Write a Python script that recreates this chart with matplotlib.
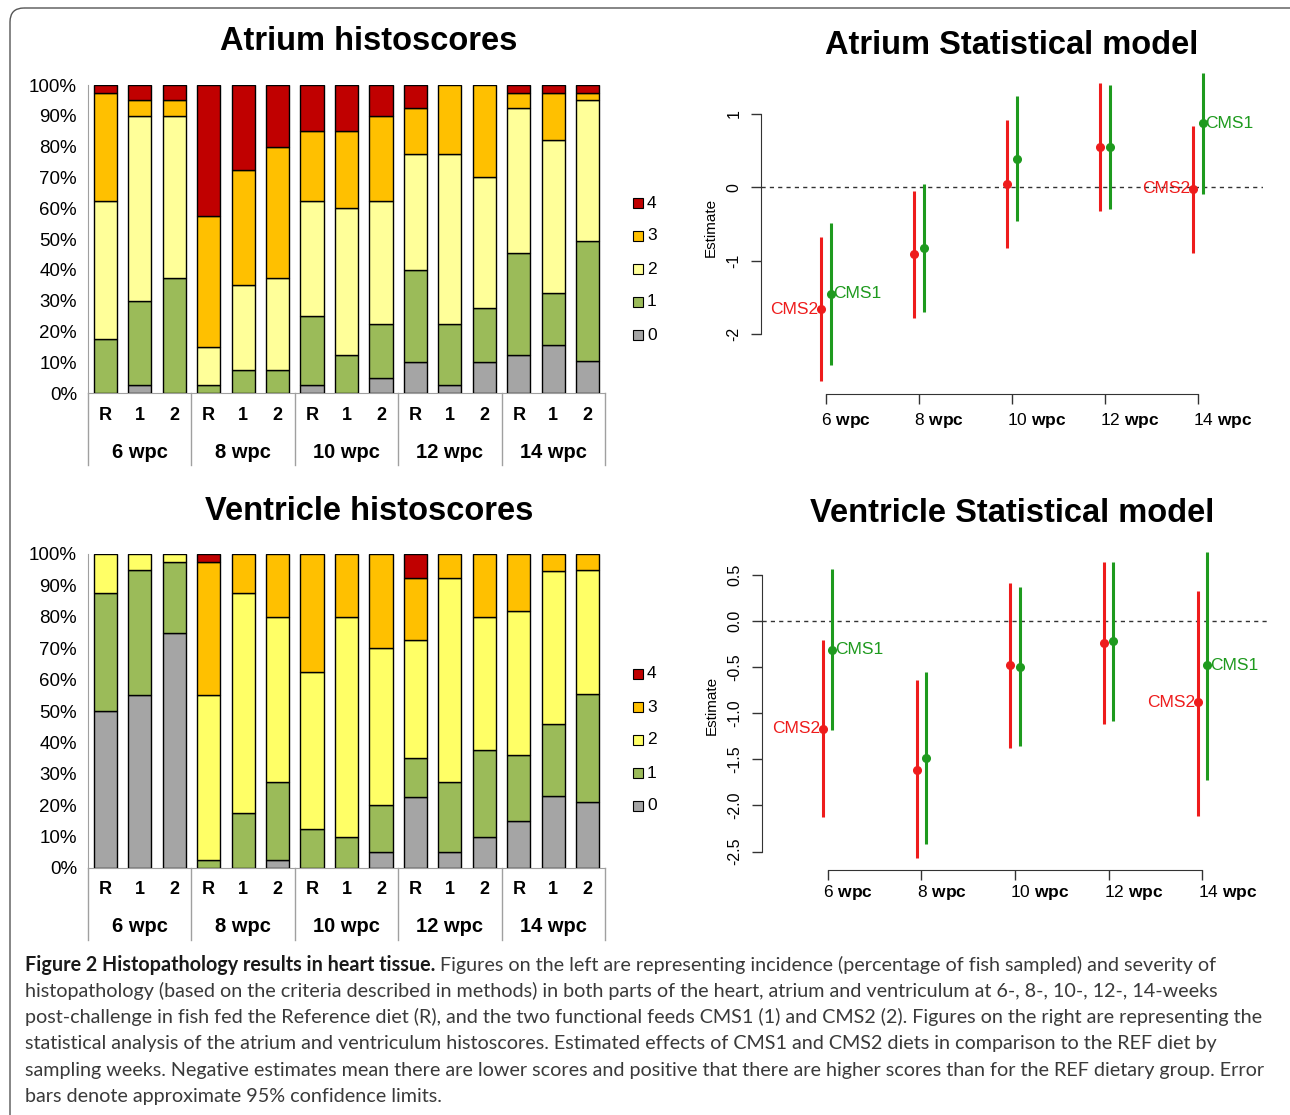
import numpy as np
import matplotlib
matplotlib.use("Agg")
import matplotlib.pyplot as plt
from matplotlib import transforms
from matplotlib.patches import FancyBboxPatch, Rectangle

plt.rcParams["font.family"] = ["Liberation Sans", "DejaVu Sans"]
plt.rcParams["axes.unicode_minus"] = False
plt.rcParams["mathtext.fontset"] = "custom"
plt.rcParams["mathtext.rm"] = "Liberation Sans"
plt.rcParams["mathtext.bf"] = "Liberation Sans:bold"

# ---- histoscore data (% of fish per score, bars: 6,8,10,12,14 wpc x R,1,2) ----
diets = ["R", "1", "2"]
groups = ["6 wpc", "8 wpc", "10 wpc", "12 wpc", "14 wpc"]
score_labels = ["0", "1", "2", "3", "4"]

atrium_s0 = [0, 2.5, 0, 0, 0, 0, 2.5, 0, 5, 10, 2.5, 10, 12.5, 15.5, 10.5]
atrium_s1 = [17.5, 27.5, 37.5, 2.5, 7.5, 7.5, 22.5, 12.5, 17.5, 30, 20, 17.5, 33, 17, 39]
atrium_s2 = [45, 60, 52.5, 12.5, 27.5, 30, 37.5, 47.5, 40, 37.5, 55, 42.5, 47, 49.5, 45.5]
atrium_s3 = [35, 5, 5, 42.5, 37.5, 42.5, 22.5, 25, 27.5, 15, 22.5, 30, 5, 15.5, 2.5]
atrium_s4 = [2.5, 5, 5, 42.5, 27.5, 20, 15, 15, 10, 7.5, 0, 0, 2.5, 2.5, 2.5]

ventricle_s0 = [50, 55, 75, 0, 0, 2.5, 0, 0, 5, 22.5, 5, 10, 15, 23, 21]
ventricle_s1 = [37.5, 40, 22.5, 2.5, 17.5, 25, 12.5, 10, 15, 12.5, 22.5, 27.5, 21, 23, 34.5]
ventricle_s2 = [12.5, 5, 2.5, 52.5, 70, 52.5, 50, 70, 50, 37.5, 65, 42.5, 46, 48.5, 39.5]
ventricle_s3 = [0, 0, 0, 42.5, 12.5, 20, 37.5, 20, 30, 20, 7.5, 20, 18, 5.5, 5]
ventricle_s4 = [0, 0, 0, 2.5, 0, 0, 0, 0, 0, 7.5, 0, 0, 0, 0, 0]

# ---- statistical model estimates with 95% limits ----
weeks = [6, 8, 10, 12, 14]

atr_cms2_est = [-1.66, -0.91, 0.045, 0.55, -0.02]
atr_cms2_lo = [-2.64, -1.78, -0.82, -0.32, -0.89]
atr_cms2_hi = [-0.68, -0.05, 0.91, 1.42, 0.83]
atr_cms1_est = [-1.45, -0.82, 0.39, 0.545, 0.87]
atr_cms1_lo = [-2.41, -1.70, -0.46, -0.30, -0.085]
atr_cms1_hi = [-0.48, 0.05, 1.24, 1.39, 1.56]

ven_cms2_est = [-1.17, -1.61, -0.48, -0.24, -0.88]
ven_cms2_lo = [-2.13, -2.57, -1.38, -1.12, -2.11]
ven_cms2_hi = [-0.21, -0.64, 0.41, 0.64, 0.33]
ven_cms1_est = [-0.31, -1.49, -0.50, -0.22, -0.48]
ven_cms1_lo = [-1.18, -2.42, -1.36, -1.08, -1.72]
ven_cms1_hi = [0.56, -0.55, 0.37, 0.64, 0.75]

caption_bold = "Figure 2 Histopathology results in heart tissue."
caption_lines = [
    " Figures on the left are representing incidence (percentage of fish sampled) and severity of",
    "histopathology (based on the criteria described in methods) in both parts of the heart, atrium and ventriculum at 6-, 8-, 10-, 12-, 14-weeks",
    "post-challenge in fish fed the Reference diet (R), and the two functional feeds CMS1 (1) and CMS2 (2). Figures on the right are representing the",
    "statistical analysis of the atrium and ventriculum histoscores. Estimated effects of CMS1 and CMS2 diets in comparison to the REF diet by",
    "sampling weeks. Negative estimates mean there are lower scores and positive that there are higher scores than for the REF dietary group. Error",
    "bars denote approximate 95% confidence limits.",
]

W, H = 1290, 1115
fig = plt.figure(figsize=(W / 100, H / 100), dpi=100)
px = transforms.Affine2D().scale(1 / W, -1 / H).translate(0, 1) + fig.transFigure

RED = "#EE1C1C"
GREEN = "#1E9A1E"
GRAY_AX = "#A0A0A0"


def axes_px(left, top, right, bottom):
    return fig.add_axes([left / W, 1 - bottom / H, (right - left) / W, (bottom - top) / H])


def bar_panel(top, bottom, scores, colors, title, title_y, label_y, group_y, sep_bottom, legend_y):
    ax = axes_px(88, top, 605, bottom)
    x = np.arange(15)
    base = np.zeros(15)
    for vals, col in zip(scores, colors):
        vals = np.asarray(vals, dtype=float)
        keep = vals > 0
        ax.bar(x[keep], vals[keep], bottom=base[keep], width=0.67, color=col,
               edgecolor="black", linewidth=1.0, zorder=3)
        base += vals
    ax.set_xlim(-0.5, 14.5)
    ax.set_ylim(0, 100)
    ax.set_yticks(range(0, 101, 10))
    ax.set_yticklabels([f"{v}%" for v in range(0, 101, 10)])
    ax.set_xticks([])
    ax.tick_params(axis="y", length=0, pad=8, labelsize=13.5)
    for side in ("top", "right"):
        ax.spines[side].set_visible(False)
    for side in ("left", "bottom"):
        ax.spines[side].set_color(GRAY_AX)

    trans = transforms.blended_transform_factory(ax.transData, px)
    for i in range(15):
        ax.text(i, label_y, diets[i % 3], transform=trans, ha="center", va="center",
                fontsize=13, fontweight="bold")
    for k, g in enumerate(groups):
        ax.text(3 * k + 1, group_y, g, transform=trans, ha="center", va="center",
                fontsize=14.5, fontweight="bold")
    for k in range(6):
        ax.plot([3 * k - 0.5] * 2, [bottom, sep_bottom], transform=trans,
                color=GRAY_AX, lw=1, clip_on=False)

    fig.text(369, title_y, title, transform=px, ha="center", va="center",
             fontsize=23.5, fontweight="bold")

    for j, (lab, col) in enumerate(zip(score_labels[::-1], colors[::-1])):
        yy = legend_y + 33 * j
        fig.add_artist(Rectangle((633, yy - 5), 10, 10, transform=px, facecolor=col,
                                 edgecolor="black", linewidth=0.8))
        fig.text(647, yy, lab, transform=px, ha="left", va="center", fontsize=12.5)
    return ax


def stat_panel(left, top, right, bottom, ylim, yticks, yfmt, cms2, cms1, title, title_y, xlab_y):
    ax = axes_px(left, top, right, bottom)
    ax.set_xlim(4.6, 15.4)
    ax.set_ylim(*ylim)
    ax.axhline(0, ls=(0, (3, 3)), color="#333333", lw=1)
    x = np.array(weeks, dtype=float)
    est2, lo2, hi2 = cms2
    est1, lo1, hi1 = cms1
    ax.vlines(x - 0.1, lo2, hi2, color=RED, lw=2.2)
    ax.plot(x - 0.1, est2, "o", color=RED, ms=5.5)
    ax.vlines(x + 0.1, lo1, hi1, color=GREEN, lw=2.2)
    ax.plot(x + 0.1, est1, "o", color=GREEN, ms=5.5)

    for i in (0, 4):
        ax.annotate("CMS2", (x[i] - 0.1, est2[i]), xytext=(-2, 0), textcoords="offset points",
                    ha="right", va="center", color=RED, fontsize=12.5)
        ax.annotate("CMS1", (x[i] + 0.1, est1[i]), xytext=(2, 0), textcoords="offset points",
                    ha="left", va="center", color=GREEN, fontsize=12.5)

    for side in ("top", "right"):
        ax.spines[side].set_visible(False)
    ax.spines["left"].set_bounds(yticks[0], yticks[-1])
    ax.spines["bottom"].set_bounds(weeks[0], weeks[-1])
    for side in ("left", "bottom"):
        ax.spines[side].set_color("#333333")
    ax.set_yticks(yticks)
    ax.set_yticklabels([yfmt.format(v) for v in yticks], rotation=90, va="center")
    ax.set_xticks(weeks)
    ax.set_xticklabels([])
    ax.tick_params(direction="out", length=7, width=1, color="#333333", labelsize=11.5, pad=7)
    ax.set_ylabel("Estimate", fontsize=11, labelpad=6)

    trans = transforms.blended_transform_factory(ax.transData, px)
    for w in weeks:
        ax.text(w - 0.1, xlab_y, f"{w} " + r"$\mathbf{wpc}$", transform=trans,
                ha="left", va="center", fontsize=12.5)
    fig.text(1012, title_y, title, transform=px, ha="center", va="center",
             fontsize=23.5, fontweight="bold")
    return ax


atr_colors = ["#A5A5A5", "#9BBB59", "#FFFF99", "#FFC000", "#C00000"]
ven_colors = ["#A5A5A5", "#9BBB59", "#FFFF66", "#FFC000", "#C00000"]

bar_panel(85, 393, [atrium_s0, atrium_s1, atrium_s2, atrium_s3, atrium_s4], atr_colors,
          "Atrium histoscores", 42, 416, 452, 465, 203)
bar_panel(554, 868, [ventricle_s0, ventricle_s1, ventricle_s2, ventricle_s3, ventricle_s4], ven_colors,
          "Ventricle histoscores", 511, 890, 927, 940, 674)

stat_panel(761, 60, 1263, 394, (-2.81, 1.73), [-2, -1, 0, 1], "{:g}",
           (atr_cms2_est, atr_cms2_lo, atr_cms2_hi), (atr_cms1_est, atr_cms1_lo, atr_cms1_hi),
           "Atrium Statistical model", 45, 421)
stat_panel(762, 540, 1268, 870, (-2.70, 0.88), [-2.5, -2.0, -1.5, -1.0, -0.5, 0.0, 0.5], "{:.1f}",
           (ven_cms2_est, ven_cms2_lo, ven_cms2_hi), (ven_cms1_est, ven_cms1_lo, ven_cms1_hi),
           "Ventricle Statistical model", 513, 893)

# frame around the figure
fig.add_artist(FancyBboxPatch((10, 8), 1320, 1140, boxstyle="round,pad=0,rounding_size=14",
                              transform=px, fill=False, edgecolor="#555555", linewidth=1))

# caption, font size fitted to the printed line width
renderer = fig.canvas.get_renderer()
probe = fig.text(0, 0, caption_lines[2], transform=px, fontsize=12, family="Lato")
probe_w = probe.get_window_extent(renderer).width
probe.remove()
cap_fs = 12 * 1232 / probe_w

baselines = [971, 997, 1023, 1049, 1076, 1102]
bold = fig.text(25, baselines[0], caption_bold, transform=px, fontsize=cap_fs, family="Lato",
                fontweight="bold", color="#1a1a1a", va="baseline")
bx = bold.get_window_extent(renderer).x1
fig.text(bx, baselines[0], caption_lines[0], transform=px, fontsize=cap_fs, family="Lato",
         color="#3a3a3a", va="baseline")
for line, yb in zip(caption_lines[1:], baselines[1:]):
    fig.text(25, yb, line, transform=px, fontsize=cap_fs, family="Lato", color="#3a3a3a", va="baseline")

fig.savefig("out.png", dpi=100)
